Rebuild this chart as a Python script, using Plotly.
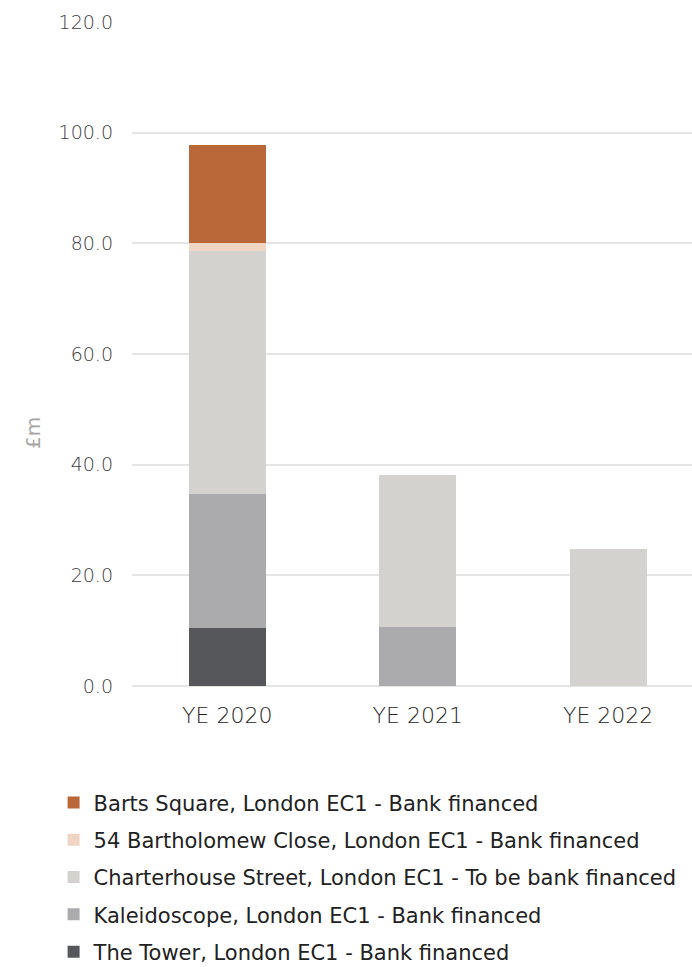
import plotly.graph_objects as go

# Categories and stacked values (£m)
years = ["YE 2020", "YE 2021", "YE 2022"]
tower = [10.5, 0, 0]
kaleidoscope = [24.2, 10.7, 0]
charterhouse = [44.0, 27.4, 24.8]
bartholomew = [1.4, 0, 0]
barts_square = [17.7, 0, 0]

series = [
    ("The Tower, London EC1 - Bank financed", tower, "#56575B"),
    ("Kaleidoscope, London EC1 - Bank financed", kaleidoscope, "#ABABAD"),
    ("Charterhouse Street, London EC1 - To be bank financed", charterhouse, "#D3D2CE"),
    ("54 Bartholomew Close, London EC1 - Bank financed", bartholomew, "#F0D4C4"),
    ("Barts Square, London EC1 - Bank financed", barts_square, "#BA673A"),
]

y_ticks = [0, 20, 40, 60, 80, 100, 120]

fig = go.Figure()
for i, (name, vals, color) in enumerate(series):
    fig.add_trace(go.Bar(
        x=years, y=vals, name=name, marker_color=color,
        marker_line_width=0, width=0.404,
        legendgroup=f"g{i}", legendrank=len(series) - i,
    ))

font_family = "DejaVu Sans"
fig.update_layout(
    barmode="stack",
    width=692, height=967,
    margin=dict(l=132, r=0, t=22, b=281, autoexpand=False),
    plot_bgcolor="white", paper_bgcolor="white",
    font=dict(family=font_family, color="#262626"),
    xaxis=dict(
        range=[-0.5, 2.44], showgrid=False, zeroline=False,
        tickfont=dict(size=22, color="#262626", weight=300), ticks="", ticklen=0,
        ticklabelstandoff=14,
    ),
    yaxis=dict(
        range=[0, 120], tickvals=y_ticks,
        ticktext=[f"{v:.1f}" for v in y_ticks],
        tickfont=dict(size=19, color="#404040", weight=300),
        gridcolor="#E5E5E5", gridwidth=2,
        zeroline=True, zerolinecolor="#E5E5E5", zerolinewidth=2,
        ticklabelstandoff=18,
    ),
    legend=dict(
        x=-0.14, xanchor="left", y=-0.145, yanchor="top",
        traceorder="grouped", tracegroupgap=7,
        font=dict(size=21, color="#222222"),
    ),
    showlegend=True,
)

# Vertical axis unit label
fig.add_annotation(
    text="£m", textangle=-90, showarrow=False,
    xref="paper", yref="paper", x=-0.177, y=0.381,
    xanchor="center", yanchor="middle",
    font=dict(size=20, color="#A6A6A6"),
)

fig.write_html("out.html")
